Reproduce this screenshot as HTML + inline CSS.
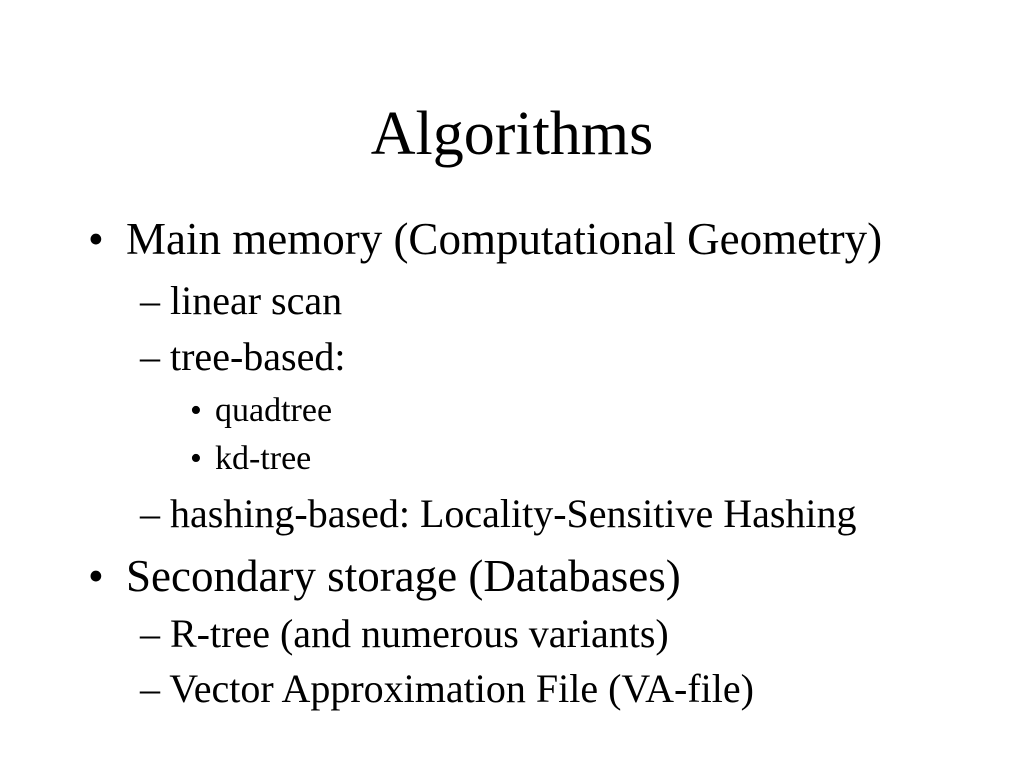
<!DOCTYPE html>
<html><head><style>
body{margin:0;width:1024px;height:768px;background:#fff;position:relative;overflow:hidden;font-family:"Liberation Serif",serif;color:#000}
div{position:absolute;white-space:nowrap}
.t{left:0;width:1024px;text-align:center;font-size:62px;line-height:62px;top:103px}
.l1{font-size:45px;line-height:45px}
.l2{font-size:40px;line-height:40px}
.l3{font-size:34px;line-height:34px}
</style></head><body>
<div class="t">Algorithms</div>
<div class="l1" style="left:88px;top:217px">•</div>
<div class="l1" style="left:126px;top:217px">Main memory (Computational Geometry)</div>
<div class="l2" style="left:140px;top:281px">– linear scan</div>
<div class="l2" style="left:140px;top:337px">– tree-based:</div>
<div class="l3" style="left:190px;top:394px">•</div>
<div class="l3" style="left:215px;top:394px">quadtree</div>
<div class="l3" style="left:190px;top:442px">•</div>
<div class="l3" style="left:215px;top:442px">kd-tree</div>
<div class="l2" style="left:140px;top:494px">– hashing-based: Locality-Sensitive Hashing</div>
<div class="l1" style="left:88px;top:554px">•</div>
<div class="l1" style="left:126px;top:554px">Secondary storage (Databases)</div>
<div class="l2" style="left:140px;top:614px">– R-tree (and numerous variants)</div>
<div class="l2" style="left:140px;top:669px">– Vector Approximation File (VA-file)</div>
</body></html>
